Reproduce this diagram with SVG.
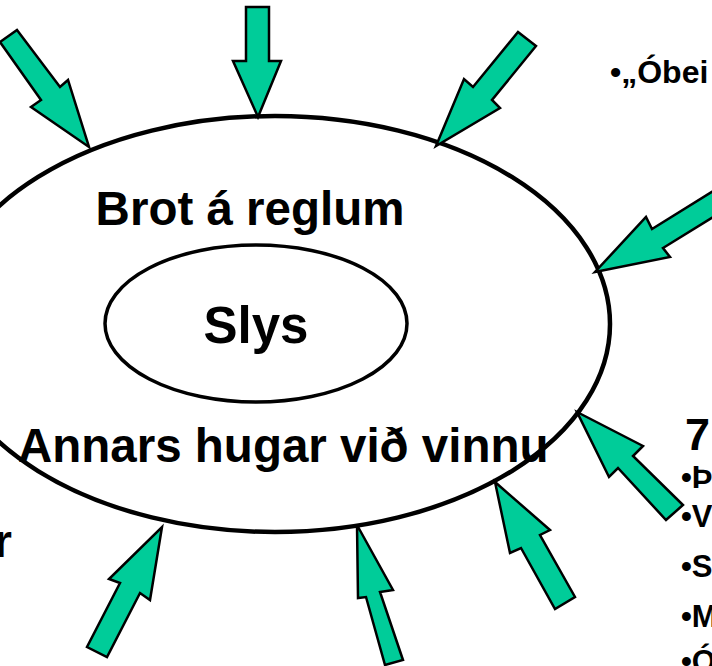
<svg xmlns="http://www.w3.org/2000/svg" width="712" height="666" viewBox="0 0 712 666">
  <style>
    .ring { fill: none; stroke: #000; }
    .label { font-family: "Liberation Sans", Arial, sans-serif; font-weight: bold; fill: #000; }
    .big { font-size: 47.5px; }
    .side { font-size: 31px; }
    .arrow { fill: #00CC99; stroke: #000; stroke-width: 2.5; stroke-linejoin: miter; }
  </style>
  <rect width="712" height="666" fill="#fff"/>

  <!-- outer ring: causes of accidents -->
  <g id="node-causes">
    <ellipse class="ring" cx="275" cy="324" rx="335" ry="208" stroke-width="4.5"/>
    <text class="label big" x="250" y="225" text-anchor="middle">Brot á reglum</text>
    <text class="label big" x="18" y="462">Annars hugar við vinnu</text>
  </g>

  <!-- inner ring: the accident -->
  <g id="node-slys">
    <ellipse class="ring" cx="256" cy="323.5" rx="151" ry="78.5" stroke-width="3.5"/>
    <text class="label" x="256" y="343" text-anchor="middle" font-size="51">Slys</text>
  </g>

  <!-- block arrows pointing at the outer ring -->
  <g id="connectors">
    <polygon class="arrow" points="17,30 60,87 68,80 89,147 31,107 41,100 0,42"/>
    <polygon class="arrow" points="246,7 269,7 269,61 281,61 258,117 233,61 246,61"/>
    <polygon class="arrow" points="518,32 536,46 492,100 500,108 436,146 464,79 473,87"/>
    <polygon class="arrow" points="760,162 652,229 646,217 595,272 670,257 663,248 760,188"/>
    <polygon class="arrow" points="577,412 643,446 633,456 683,505 666,520 618,468 609,477"/>
    <polygon class="arrow" points="495,482 550,530 540,535 575,597 555,609 521,548 510,553"/>
    <polygon class="arrow" points="357,525 393,590 380,592 403,660 385,665 366,597 358,598"/>
    <polygon class="arrow" points="162,527 150,600 140,593 107,657 87,647 120,583 109,579"/>
  </g>

  <!-- side notes -->
  <g id="note-top">
    <text class="label" x="610" y="83" font-size="32">•„Óbei</text>
  </g>
  <g id="note-left">
    <text class="label" x="-6" y="557" font-size="46">r</text>
  </g>
  <g id="note-right">
    <text class="label" x="685" y="450" font-size="45">7</text>
    <text class="label side" x="681" y="488">•Þ</text>
    <text class="label side" x="681" y="527">•V</text>
    <text class="label side" x="681" y="577">•S</text>
    <text class="label side" x="681" y="627">•M</text>
    <text class="label side" x="681" y="672">•Ó</text>
  </g>
</svg>
